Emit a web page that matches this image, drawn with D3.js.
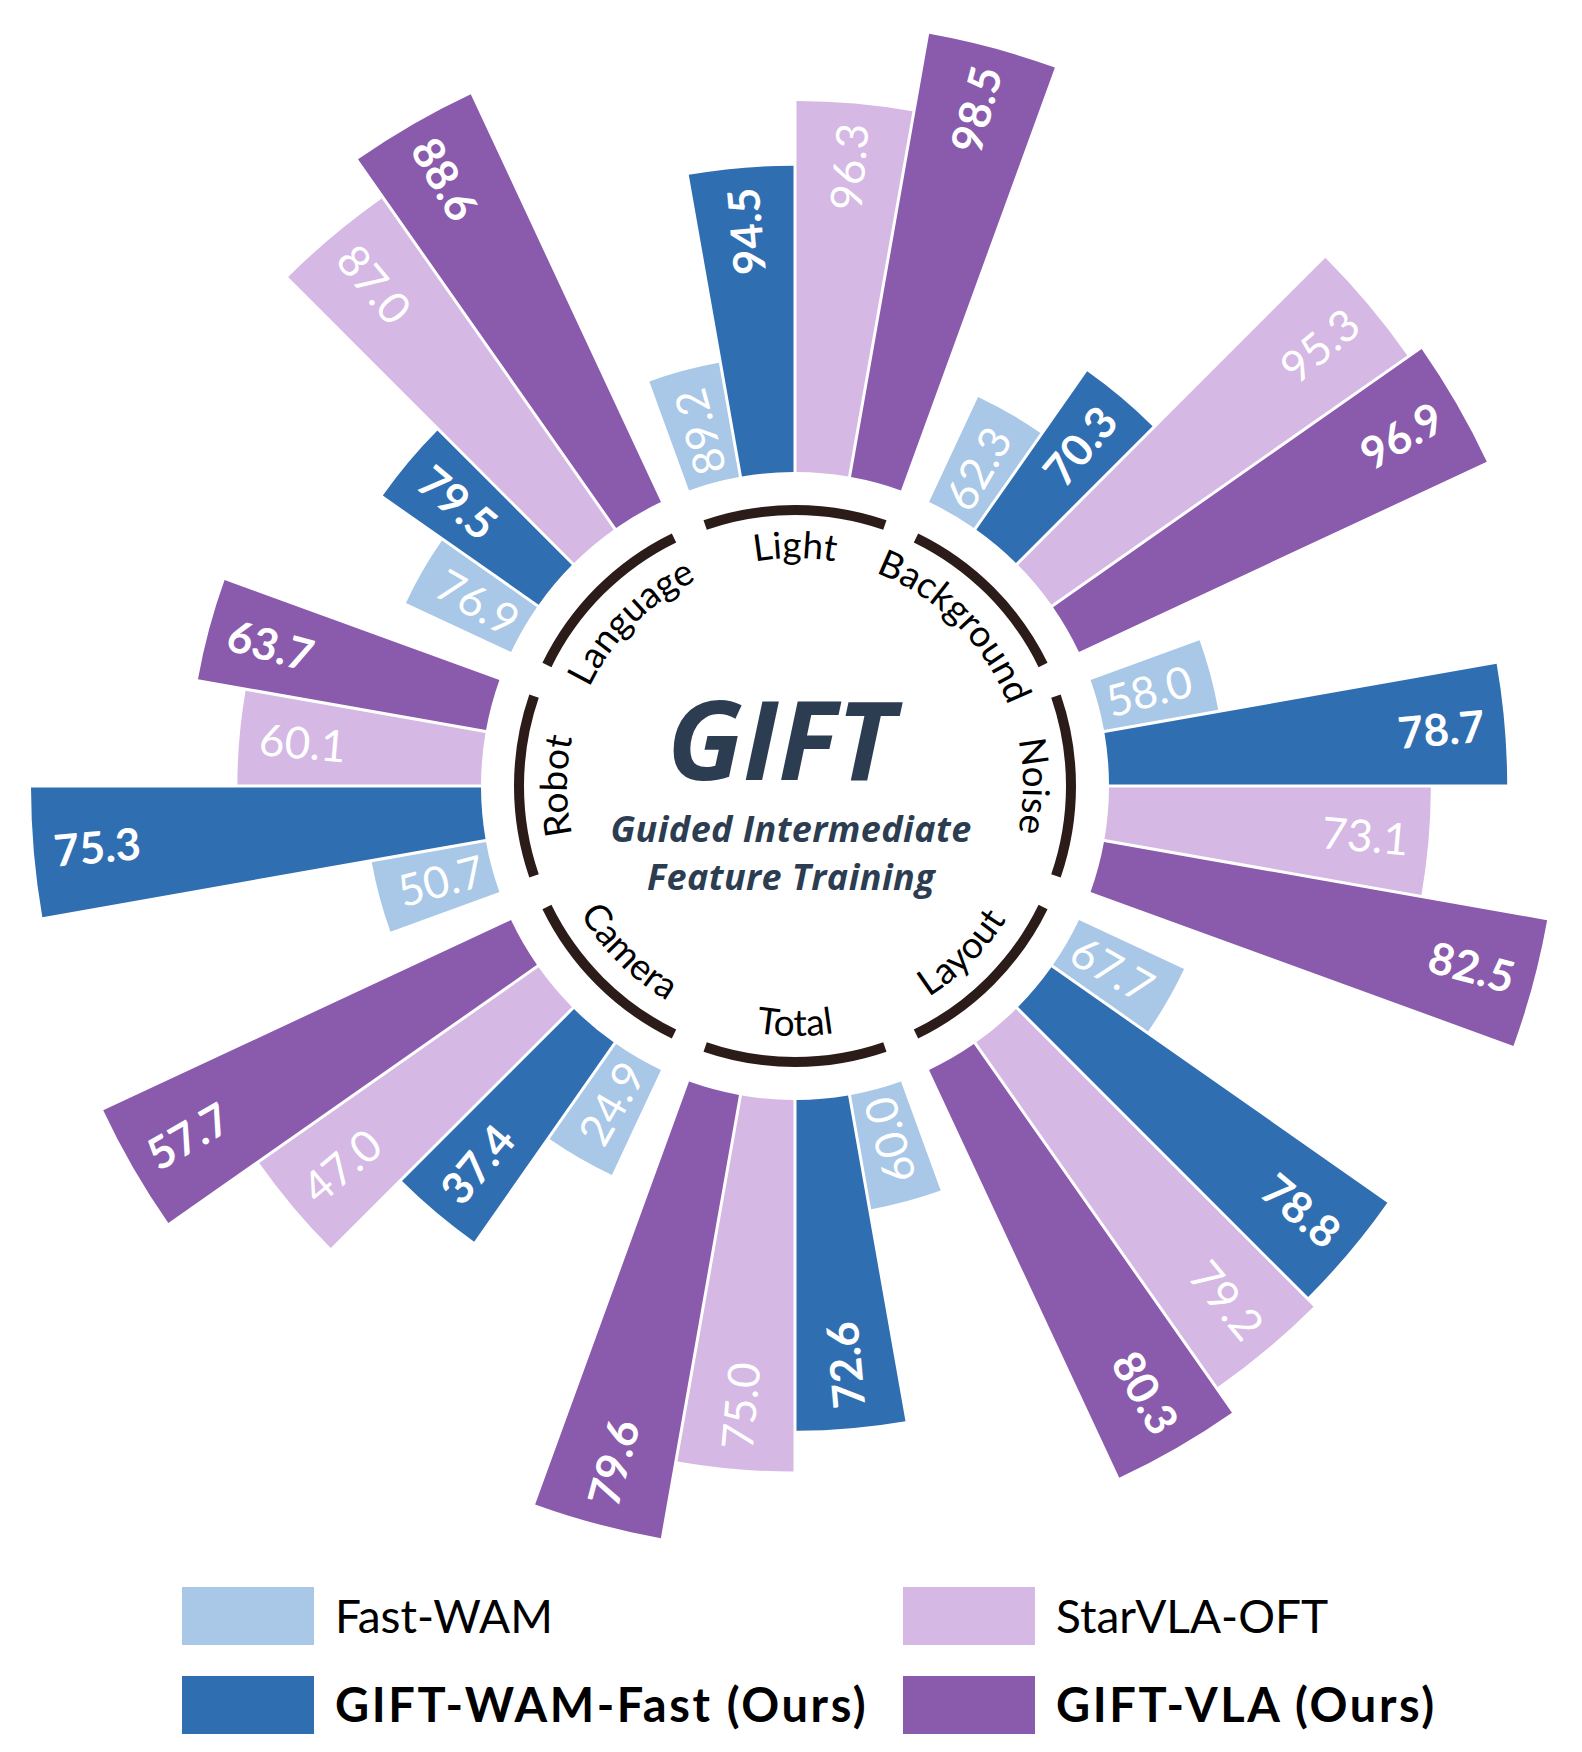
<!DOCTYPE html>
<html>
<head>
<meta charset="utf-8">
<script src="https://cdn.jsdelivr.net/npm/d3@7"></script>
<style>
html, body { margin: 0; padding: 0; background: #ffffff; }
svg { display: block; }
</style>
</head>
<body>
<svg id="chart" width="1582" height="1752"></svg>
<script>
// ---------------- DATA ----------------
const categories = ["Light", "Background", "Noise", "Layout", "Total", "Camera", "Robot", "Language"];
const seriesNames = ["Fast-WAM", "GIFT-WAM-Fast (Ours)", "StarVLA-OFT", "GIFT-VLA (Ours)"];
const fastWAM     = [89.2, 62.3, 58.0, 67.7, 60.0, 24.9, 50.7, 76.9];
const giftWAMFast = [94.5, 70.3, 78.7, 78.8, 72.6, 37.4, 75.3, 79.5];
const starVLAOFT  = [96.3, 95.3, 73.1, 79.2, 75.0, 47.0, 60.1, 87.0];
const giftVLA     = [98.5, 96.9, 82.5, 80.3, 79.6, 57.7, 63.7, 88.6];
const seriesColors = ["#A9C7E7", "#2F6EB1", "#D5B8E4", "#8A5AAD"];
const seriesIsOurs = [false, true, false, true];
const centerTitle = "GIFT";
const centerSubtitle = ["Guided Intermediate", "Feature Training"];

const seriesValues = [fastWAM, giftWAMFast, starVLAOFT, giftVLA];

// ---------------- LAYOUT ----------------
const W = 1582, H = 1752;
const cx = 795, cy = 786;
const innerR = 314;
const rMin = 430, rMax = 764;
const ringR = 276, ringW = 10;
const deg = Math.PI / 180;

const svg = d3.select("#chart");
svg.append("rect").attr("width", W).attr("height", H).attr("fill", "#fff");
const defs = svg.append("defs");
const g = svg.append("g").attr("transform", `translate(${cx},${cy})`);

// angular scales (0 = 12 o'clock, clockwise)
const angle = d3.scaleBand()
  .domain(categories)
  .range([-Math.PI / 8, 2 * Math.PI - Math.PI / 8])
  .paddingInner(1 / 9)
  .paddingOuter(1 / 18);
const sub = d3.scaleBand()
  .domain(d3.range(seriesNames.length))
  .range([0, angle.bandwidth()]);

// per-category radial scales
const radial = categories.map((c, k) => {
  const vals = seriesValues.map(s => s[k]);
  return d3.scaleLinear().domain(d3.extent(vals)).range([rMin, rMax]);
});

// flatten data
const bars = [];
categories.forEach((c, k) => {
  seriesValues.forEach((s, j) => {
    const a0 = angle(c) + sub(j);
    const a1 = a0 + sub.bandwidth();
    bars.push({ k, j, cat: c, value: s[k], a0, a1, r: radial[k](s[k]) });
  });
});

const arc = d3.arc()
  .innerRadius(innerR)
  .outerRadius(d => d.r)
  .startAngle(d => d.a0)
  .endAngle(d => d.a1)
  .padAngle(0.006)
  .padRadius(500);

g.append("g").selectAll("path")
  .data(bars)
  .join("path")
  .attr("d", arc)
  .attr("fill", d => seriesColors[d.j]);

// value labels
const pad = 20;
g.append("g").selectAll("text")
  .data(bars)
  .join("text")
  .attr("transform", d => {
    const mid = (d.a0 + d.a1) / 2 / deg;
    const outward = d.k < 4;
    return `rotate(${mid - 90}) translate(${d.r - pad},0)` + (outward ? "" : " rotate(180)");
  })
  .attr("text-anchor", d => d.k < 4 ? "end" : "start")
  .attr("dy", "0.36em")
  .attr("fill", "#ffffff")
  .attr("font-family", "Lato, 'Open Sans', sans-serif")
  .attr("font-weight", d => seriesIsOurs[d.j] ? 700 : 400)
  .attr("font-size", 44)
  .text(d => d.value.toFixed(1));

// category ring arcs
const ringArc = d3.arc()
  .innerRadius(ringR - ringW / 2)
  .outerRadius(ringR + ringW / 2)
  .startAngle(c => angle(c) + angle.bandwidth() / 2 - 19 * deg)
  .endAngle(c => angle(c) + angle.bandwidth() / 2 + 19 * deg);

g.append("g").selectAll("path")
  .data(categories)
  .join("path")
  .attr("d", ringArc)
  .attr("fill", "#2B1C1A");

// category labels on circular paths (paths in the same centred frame as the text)
categories.forEach((c, k) => {
  const mid = angle(c) + angle.bandwidth() / 2;
  const clockwiseText = !(mid > 91 * deg && mid < 269 * deg);
  const r = clockwiseText ? 228 : 250;
  const p = d3.path();
  const s = mid - Math.PI / 2;
  const span = 60 * deg;
  if (clockwiseText) {
    p.moveTo(r * Math.cos(s - span), r * Math.sin(s - span));
    p.arc(0, 0, r, s - span, s + span, false);
  } else {
    p.moveTo(r * Math.cos(s + span), r * Math.sin(s + span));
    p.arc(0, 0, r, s + span, s - span, true);
  }
  defs.append("path").attr("id", "catpath" + k).attr("d", p.toString());
});

g.append("g").selectAll("text")
  .data(categories)
  .join("text")
  .attr("font-family", "Lato, 'Open Sans', sans-serif")
  .attr("font-size", 37)
  .attr("fill", "#000000")
  .append("textPath")
  .attr("href", (c, k) => "#catpath" + k)
  .attr("startOffset", "50%")
  .attr("text-anchor", "middle")
  .text(c => c);

// center title
const center = svg.append("g").attr("fill", "#2C3D52")
  .attr("font-family", "'Open Sans', 'DejaVu Sans', sans-serif")
  .attr("font-weight", 700)
  .attr("font-style", "italic")
  .attr("text-anchor", "middle");
center.append("text")
  .attr("x", cx - 14).attr("y", cy - 6)
  .attr("font-size", 110)
  .text(centerTitle);
centerSubtitle.forEach((t, i) => {
  center.append("text")
    .attr("x", cx - 4).attr("y", cy + 56 + i * 48)
    .attr("font-size", 36)
    .attr("letter-spacing", 0.4)
    .text(t);
});

// legend
const legendX = [182, 903];
const legendY = [1587, 1676];
const legend = svg.append("g");
seriesNames.forEach((name, i) => {
  const col = Math.floor(i / 2), row = i % 2;
  const x = legendX[col], y = legendY[row];
  legend.append("rect")
    .attr("x", x).attr("y", y)
    .attr("width", 132).attr("height", 58)
    .attr("fill", seriesColors[i]);
  legend.append("text")
    .attr("x", x + 153).attr("y", y + 46)
    .attr("font-family", "Lato, 'Open Sans', sans-serif")
    .attr("font-size", seriesIsOurs[i] ? 47 : 46)
    .attr("letter-spacing", seriesIsOurs[i] ? 2.6 : 0)
    .attr("font-weight", seriesIsOurs[i] ? 700 : 400)
    .attr("fill", "#000")
    .text(name);
});
</script>
</body>
</html>
